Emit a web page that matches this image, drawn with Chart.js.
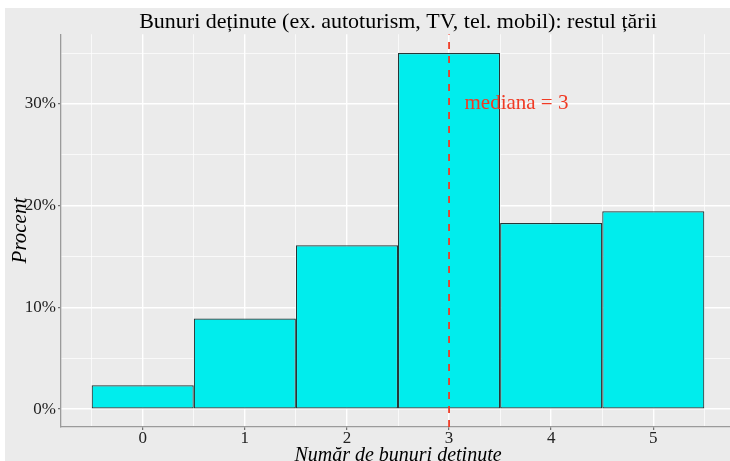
<!DOCTYPE html>
<html>
<head>
<meta charset="utf-8">
<script src="https://cdn.jsdelivr.net/npm/chart.js@4.4.1/dist/chart.umd.min.js"></script>
<style>
  html, body { margin: 0; padding: 0; background: #fff; overflow: hidden; width: 730px; height: 461px; }
  #wrap { position: absolute; left: 5px; top: 8px; }
  canvas { display: block; background: #ebebeb; }
</style>
</head>
<body>
<div id="wrap"><canvas id="chart" width="740" height="460"></canvas></div>
<script>
// histogram data
const goods = [0, 1, 2, 3, 4, 5];
const percent = [2.35, 8.9, 16.1, 35.0, 18.3, 19.45];
const xTicks = [-0.5, 0, 0.5, 1, 1.5, 2, 2.5, 3, 3.5, 4, 4.5, 5, 5.5];
const yTicks = [0, 5, 10, 15, 20, 25, 30, 35];
const xRange = [-0.8, 5.8];
const yRange = [-1.755, 36.85];
const median = 3;
const medianLabel = 'mediana = 3';
const medianLabelAt = { x: 3.66, y: 30 };

const serif = "'Liberation Serif', 'Times New Roman', serif";
const red = '#f03a24';

const isMajor = (c, step) => {
  if (!c.tick) return true;
  const v = c.tick.value / step;
  return Math.abs(v - Math.round(v)) < 1e-6;
};

// text for the median
const medianText = {
  id: 'medianText',
  afterDatasetsDraw(chart) {
    const { ctx, scales } = chart;
    ctx.save();
    ctx.font = '21px ' + serif;
    ctx.fillStyle = red;
    ctx.textAlign = 'center';
    ctx.textBaseline = 'middle';
    ctx.fillText(medianLabel, scales.x.getPixelForValue(medianLabelAt.x), scales.y.getPixelForValue(medianLabelAt.y));
    ctx.restore();
  }
};

new Chart(document.getElementById('chart'), {
  data: {
    datasets: [
      {
        type: 'line',
        data: [{ x: median, y: yRange[0] }, { x: median, y: yRange[1] }],
        borderColor: red,
        borderWidth: 1.8,
        borderDash: [7, 7],
        pointRadius: 0,
        order: 0
      },
      {
        type: 'bar',
        data: goods.map((g, i) => ({ x: g, y: percent[i] })),
        backgroundColor: '#00eded',
        borderColor: '#263636',
        borderWidth: 1.2,
        borderSkipped: false,
        // the half-unit grid ticks set the bar slot to 0.5, so double it
        barPercentage: 2,
        categoryPercentage: 1,
        order: 1
      }
    ]
  },
  options: {
    responsive: false,
    animation: false,
    layout: { padding: { left: 0, right: 10, top: 0, bottom: 0 } },
    plugins: {
      legend: { display: false },
      tooltip: { enabled: false },
      title: {
        display: true,
        text: 'Bunuri deținute (ex. autoturism, TV, tel. mobil): restul țării',
        color: '#000',
        fullSize: false,
        font: { family: serif, size: 22, weight: 'normal', lineHeight: 1.1 },
        padding: { top: 2, bottom: 0 }
      }
    },
    scales: {
      x: {
        type: 'linear',
        offset: false,
        min: xRange[0],
        max: xRange[1],
        afterBuildTicks: (s) => { s.ticks = xTicks.map(v => ({ value: v })); },
        afterFit: (s) => { s.height = 41; },
        ticks: {
          autoSkip: false,
          maxRotation: 0,
          padding: -2,
          color: '#222',
          font: { family: serif, size: 17 },
          callback: (v) => Number.isInteger(v) ? String(v) : ''
        },
        grid: {
          offset: false,
          color: '#ffffff',
          lineWidth: (c) => isMajor(c, 1) ? 1.4 : 0.7,
          tickColor: (c) => isMajor(c, 1) ? '#555' : 'rgba(0,0,0,0)',
          tickLength: 3,
          tickWidth: 1
        },
        border: { display: true, color: '#9a9a9a', width: 1.3 },
        title: {
          display: true,
          text: 'Număr de bunuri deținute',
          color: '#000',
          font: { family: serif, size: 20, style: 'italic' },
          padding: { top: -5, bottom: 0 }
        }
      },
      y: {
        type: 'linear',
        min: yRange[0],
        max: yRange[1],
        afterBuildTicks: (s) => { s.ticks = yTicks.map(v => ({ value: v })); },
        afterFit: (s) => { s.width = 56; },
        ticks: {
          padding: 2,
          color: '#222',
          font: { family: serif, size: 17 },
          callback: (v) => v % 10 === 0 ? v + '%' : ''
        },
        grid: {
          color: '#ffffff',
          lineWidth: (c) => isMajor(c, 10) ? 1.4 : 0.7,
          tickColor: (c) => isMajor(c, 10) ? '#555' : 'rgba(0,0,0,0)',
          tickLength: 3,
          tickWidth: 1
        },
        border: { display: true, color: '#9a9a9a', width: 1.3 },
        title: {
          display: true,
          text: 'Procent',
          color: '#000',
          font: { family: serif, size: 21, style: 'italic' },
          padding: { top: 3, bottom: 0 }
        }
      }
    }
  },
  plugins: [medianText]
});
</script>
</body>
</html>
